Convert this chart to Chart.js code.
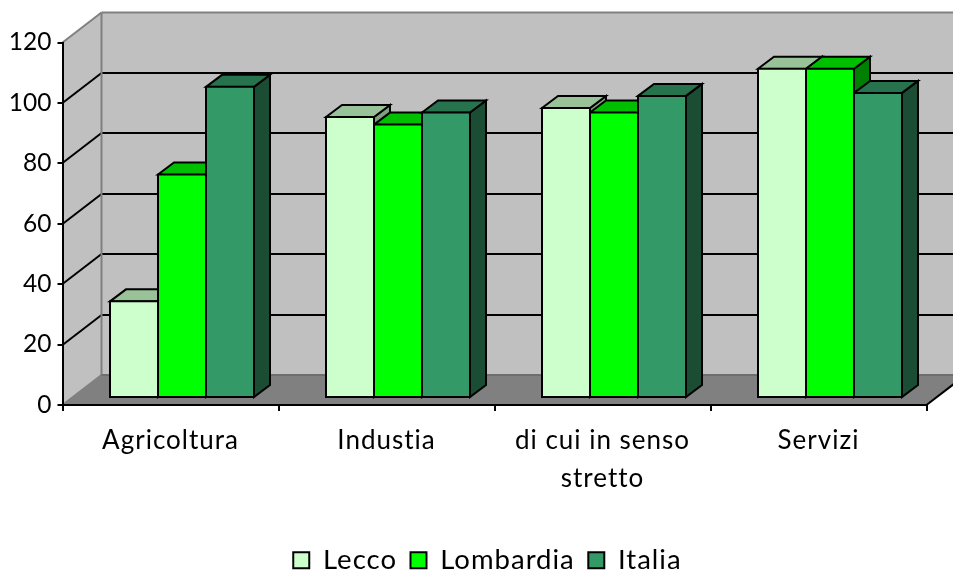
<!DOCTYPE html>
<html><head><meta charset="utf-8">
<style>html,body{margin:0;padding:0;background:#fff}canvas{display:block}</style>
<script src="https://cdn.jsdelivr.net/npm/chart.js@4"></script>
</head><body><canvas id="c" width="953" height="571"></canvas>
<script>
const categories = ["Agricoltura", "Industia", ["di cui in senso", "stretto"], "Servizi"];
const lecco = [32, 93, 96, 109];
const lombardia = [74, 90.5, 94.5, 109];
const italia = [103, 94.5, 100, 101];
const seriesNames = ["Lecco", "Lombardia", "Italia"];
const frontColors = ["#CCFFCC", "#00FF00", "#339966"];
const topColors = ["#99C299", "#00BF00", "#26734D"];
const sideColors = ["#7F9F7F", "#008000", "#1A4D33"];
const yTickStep = 20, yMax = 120;

const WALL = {dx: 39, dy: -30};
const BAR_OFFSET = {dx: 11.5, dy: -7};
const BAR_DEPTH = {dx: 16, dy: -12};
const LEGEND_SHIFT = {left: 0, top: 533};
const LEGEND_START = 286.5;

function poly(ctx, pts, fill, stroke, lw) {
  ctx.beginPath();
  pts.forEach((p, i) => i ? ctx.lineTo(p[0], p[1]) : ctx.moveTo(p[0], p[1]));
  ctx.closePath();
  if (fill) { ctx.fillStyle = fill; ctx.fill(); }
  if (stroke) { ctx.strokeStyle = stroke; ctx.lineWidth = lw; ctx.lineJoin = 'miter'; ctx.stroke(); }
}
function seg(ctx, a, b, color, lw) {
  ctx.beginPath(); ctx.moveTo(a[0], a[1]); ctx.lineTo(b[0], b[1]);
  ctx.strokeStyle = color; ctx.lineWidth = lw; ctx.stroke();
}
const box3d = {
  id: 'box3d',
  afterLayout(chart) {
    const lg = chart.legend;
    const w = lg.lineWidths ? lg.lineWidths[0] : 0;
    const h = lg.bottom - lg.top;
    const curStart = (lg.left + lg.right - w) / 2;
    const d = LEGEND_START - curStart;
    lg.left += d; lg.right += d;
    lg.top = LEGEND_SHIFT.top; lg.bottom = lg.top + h;
  },
  beforeDraw(chart) {
    const {ctx, chartArea: a, scales: {y}} = chart;
    ctx.letterSpacing = '1px';
    if (!y._noSpacing) {
      y._noSpacing = true;
      const orig = y.drawLabels;
      y.drawLabels = function (c) {
        ctx.letterSpacing = '0px';
        orig.call(this, c);
        ctx.letterSpacing = '1px';
      };
    }
    const d = WALL, W = chart.width;
    ctx.save();
    const bL = a.left + d.dx, bR = a.right + d.dx, bT = a.top + d.dy, bB = a.bottom + d.dy;
    poly(ctx, [[bL, bT], [bR, bT], [bR, bB], [bL, bB]], '#C0C0C0');
    poly(ctx, [[a.left, a.top], [bL, bT], [bL, bB], [a.left, a.bottom]], '#C0C0C0');
    poly(ctx, [[a.left, a.bottom], [a.right, a.bottom], [bR, bB], [bL, bB]], '#808080');
    y.ticks.forEach(t => {
      if (t.value === 0 || t.value === yMax) return;
      const py = Math.round(y.getPixelForValue(t.value));
      seg(ctx, [a.left, py], [bL, py + d.dy], '#000', 2);
      seg(ctx, [bL, py + d.dy], [W + 5, py + d.dy], '#000', 2);
    });
    seg(ctx, [a.left, a.top], [bL, bT], '#808080', 2);
    seg(ctx, [bL, bT], [W + 5, bT], '#808080', 2);
    seg(ctx, [bL, bT], [bL, bB], '#808080', 2);
    seg(ctx, [a.left, a.bottom], [bL, bB], '#808080', 2);
    seg(ctx, [bL, bB], [W + 5, bB], '#6E6E6E', 2);
    seg(ctx, [a.right, a.bottom], [bR, bB], '#000', 2);
    ctx.restore();
  },
  beforeDatasetsDraw(chart) {
    const ctx = chart.ctx, d = BAR_DEPTH;
    ctx.save();
    ctx.translate(BAR_OFFSET.dx, BAR_OFFSET.dy);
    seriesNames.forEach((_, i) => {
      chart.getDatasetMeta(i).data.forEach(el => {
        const {x, y, base, width} = el.getProps(['x', 'y', 'base', 'width'], true);
        const l = x - width / 2, r = x + width / 2;
        poly(ctx, [[r, y], [r + d.dx, y + d.dy], [r + d.dx, base + d.dy], [r, base]], sideColors[i], '#000', 2);
        poly(ctx, [[l, y], [l + d.dx, y + d.dy], [r + d.dx, y + d.dy], [r, y]], topColors[i], '#000', 2);
      });
    });
    ctx.restore();
  },
  beforeDatasetDraw(chart) {
    chart.ctx.save();
    chart.ctx.translate(BAR_OFFSET.dx, BAR_OFFSET.dy);
  },
  afterDatasetDraw(chart) { chart.ctx.restore(); }
};

const seriesValues = [lecco, lombardia, italia];
document.getElementById('c').getContext('2d').letterSpacing = '1px';
new Chart(document.getElementById('c'), {
  type: 'bar',
  plugins: [box3d],
  data: {
    labels: categories,
    datasets: seriesNames.map((name, i) => ({
      label: name,
      data: seriesValues[i],
      clip: false,
      backgroundColor: frontColors[i],
      borderColor: '#000',
      borderWidth: 2,
      borderSkipped: false,
      inflateAmount: 1
    }))
  },
  options: {
    responsive: false,
    animation: false,
    devicePixelRatio: 1,
    layout: {padding: {top: 42.5, right: 26.5, left: 0, bottom: 0}},
    datasets: {bar: {categoryPercentage: 2 / 3, barPercentage: 1}},
    plugins: {
      tooltip: {enabled: false},
      title: {display: false},
      legend: {
        position: 'bottom',
        labels: {
          boxWidth: 16, boxHeight: 16, padding: 13.5,
          color: '#000', font: {family: 'Lato', size: 27.5}
        }
      }
    },
    scales: {
      x: {
        afterFit(s) { s.height = 115; },
        grid: {drawOnChartArea: false, tickLength: 6, color: '#000', lineWidth: 2, offset: true},
        border: {display: true, color: '#000', width: 2},
        ticks: {color: '#000', font: {family: 'Lato', size: 26, lineHeight: 1.46}, padding: 11, maxRotation: 0, autoSkip: false}
      },
      y: {
        min: 0, max: yMax,
        afterFit(s) { s.width = 62.5; },
        grid: {drawOnChartArea: false, tickLength: 5, color: '#000', lineWidth: 2},
        border: {display: true, color: '#000', width: 2},
        ticks: {color: '#000', stepSize: yTickStep, font: {family: 'Lato', size: 24.5}, padding: 6}
      }
    }
  }
});
</script></body></html>
